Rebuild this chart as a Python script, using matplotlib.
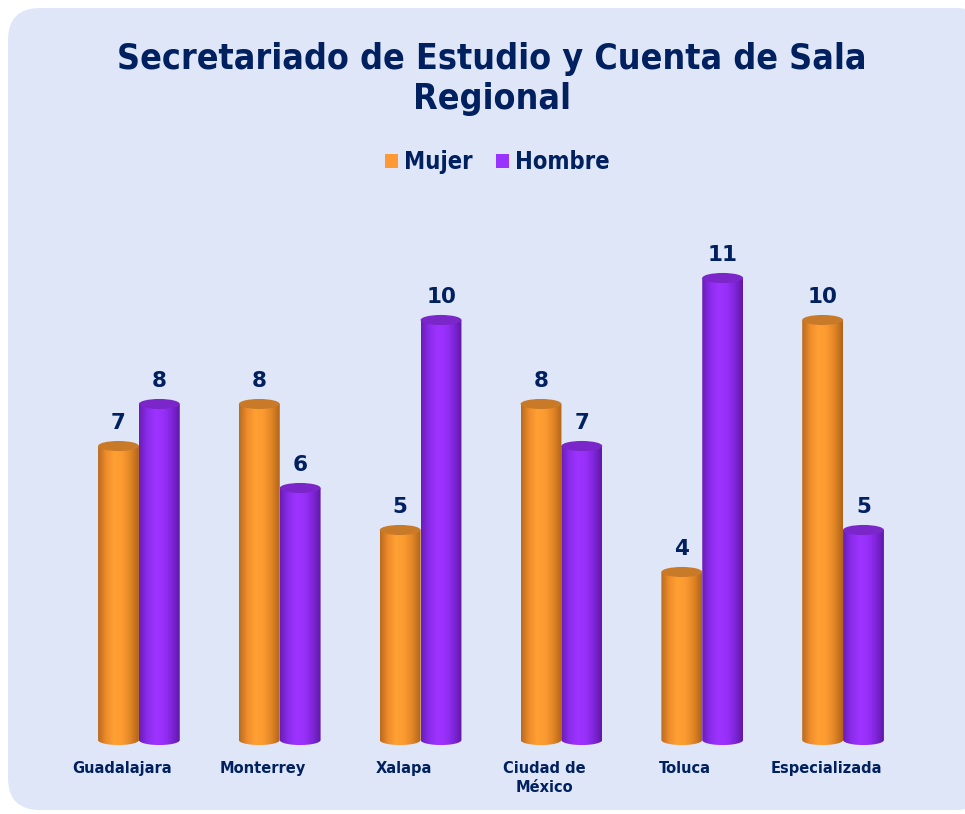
import numpy as np
import matplotlib
matplotlib.use("Agg")
import matplotlib.pyplot as plt
from matplotlib.patches import PathPatch, Ellipse, FancyBboxPatch, Rectangle
from matplotlib.path import Path
from matplotlib.colors import to_rgb
from matplotlib.font_manager import FontProperties

# ---- data ----
categories = ["Guadalajara", "Monterrey", "Xalapa", "Ciudad de\nMéxico", "Toluca", "Especializada"]
series_names = ["Mujer", "Hombre"]
mujer = [7, 8, 5, 8, 4, 10]
hombre = [8, 6, 10, 7, 11, 5]
title = "Secretariado de Estudio y Cuenta de Sala\nRegional"

# ---- style ----
navy = "#002060"
base_colors = ["#FF9933", "#9933FF"]
body_stops = [
    ["#B86A1E", "#F08D2C", "#FFA033", "#FB9A30", "#E08526", "#B06418"],
    ["#6A1CB8", "#8A2CEB", "#9E33FF", "#9830FA", "#8026DB", "#5F18A5"],
]
top_colors = ["#C97A28", "#7A26C9"]

fig = plt.figure(figsize=(9.65, 8.14), dpi=100)
fig.patch.set_facecolor("white")
panel = FancyBboxPatch((0.08, 0.04), 9.8, 8.02,
                       boxstyle="round,pad=0,rounding_size=0.32",
                       transform=fig.dpi_scale_trans, facecolor="#DEE6F7",
                       edgecolor="none", zorder=-5)
fig.patches.append(panel)

ymin, ymax = -0.5, 12
px_per_unit = 42
ax = fig.add_axes([68.5 / 965, (814 - 740 + ymin * px_per_unit) / 814,
                   845 / 965, (ymax - ymin) * px_per_unit / 814])
ax.set_facecolor("none")
ax.axis("off")
ax.set_zorder(2)

w = 0.29
eh = 0.24


def gradient(stops, n=120):
    rgb = np.array([to_rgb(c) for c in stops])
    xs = np.linspace(0, 1, len(stops))
    t = np.linspace(0, 1, n)
    arr = np.stack([np.interp(t, xs, rgb[:, k]) for k in range(3)], axis=-1)
    return arr[np.newaxis, :, :]


def cylinder(xc, v, s, z):
    x0, x1 = xc - w / 2, xc + w / 2
    t = np.linspace(np.pi, 2 * np.pi, 40)
    arc = np.column_stack([xc + (w / 2) * np.cos(t), (eh / 2) * np.sin(t)])
    verts = np.vstack([[x0, v], [x0, 0], arc, [x1, 0], [x1, v], [x0, v]])
    codes = [Path.MOVETO] + [Path.LINETO] * (len(verts) - 2) + [Path.CLOSEPOLY]
    path = Path(verts, codes)
    clip = PathPatch(path, facecolor="none", edgecolor="none", transform=ax.transData)
    ax.add_patch(clip)
    im = ax.imshow(gradient(body_stops[s]), extent=[x0, x1, -eh / 2, v],
                   aspect="auto", interpolation="bilinear", zorder=z)
    im.set_clip_path(clip)
    top = Ellipse((xc, v), w, eh, facecolor=top_colors[s], edgecolor="none", zorder=z + 0.1)
    ax.add_patch(top)
    ax.text(xc, v + 0.55, str(v), ha="center", va="center", fontsize=15.5,
            fontweight="bold", color=navy, zorder=z + 0.2)


for i in range(len(categories)):
    cylinder(i - w / 2, mujer[i], 0, 2 + i * 0.5)
    cylinder(i + w / 2, hombre[i], 1, 2.2 + i * 0.5)
    ax.text(i - 0.12, -0.5, categories[i], ha="center", va="top", fontsize=10.5,
            fontweight="bold", color=navy, linespacing=1.35)

ax.set_xlim(-0.5, 5.5)
ax.set_ylim(ymin, ymax)

title_fp = FontProperties(family="DejaVu Sans", weight="bold", stretch="condensed", size=25.7)
fig.text(492 / 965, 1 - 79 / 814, title, ha="center", va="center", fontproperties=title_fp,
         color=navy, linespacing=1.25)

leg_fp = FontProperties(family="DejaVu Sans", weight="bold", stretch="condensed", size=17)
handles = [Rectangle((0, 0), 1, 1, facecolor=c, edgecolor="none") for c in base_colors]
fig.legend(handles, series_names, loc="center", bbox_to_anchor=(497 / 965, 1 - 162 / 814),
           ncol=2, frameon=False, handlelength=0.55, handleheight=0.55,
           handletextpad=0.25, columnspacing=1.0, prop=leg_fp, labelcolor=navy)

fig.savefig("out.png", dpi=100, facecolor="white")
